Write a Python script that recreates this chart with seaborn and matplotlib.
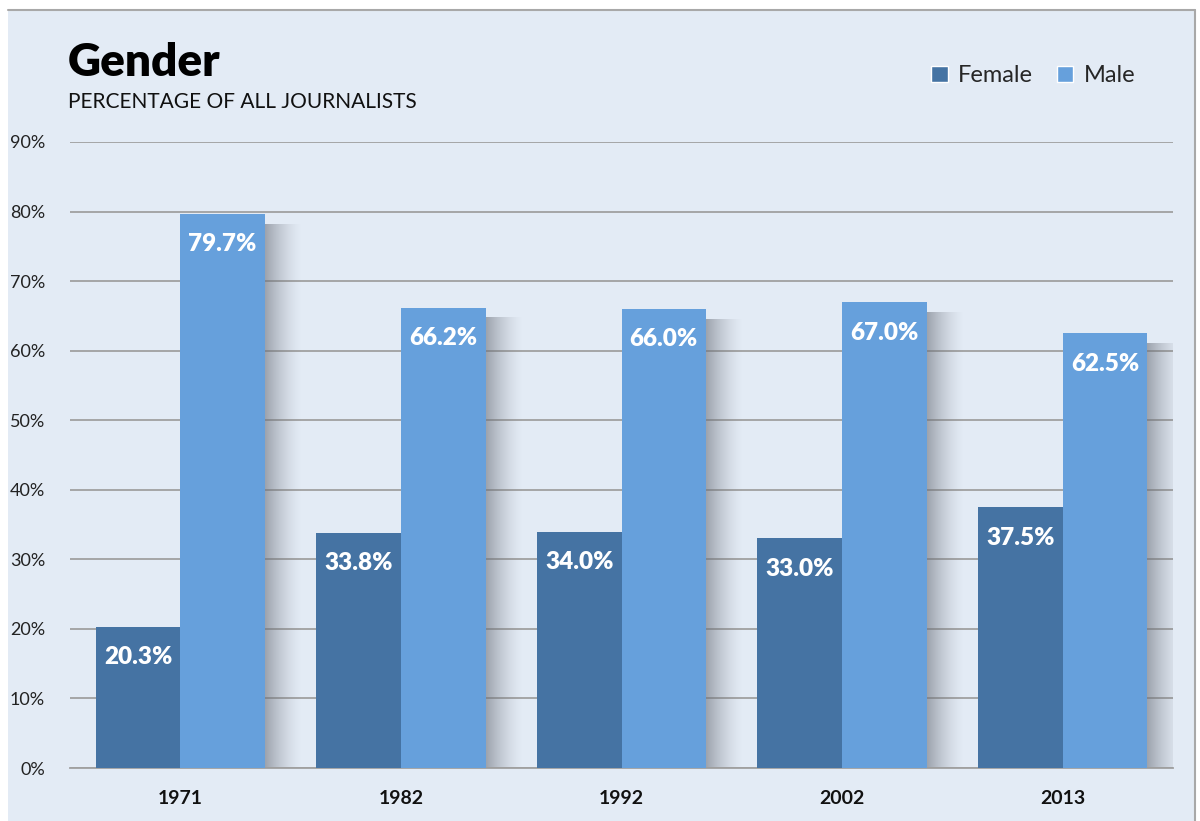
import numpy as np
import pandas as pd
import matplotlib
matplotlib.use("Agg")
import matplotlib.pyplot as plt
import seaborn as sns
from matplotlib.patches import Rectangle

years = ["1971", "1982", "1992", "2002", "2013"]
female = [20.3, 33.8, 34.0, 33.0, 37.5]
male = [79.7, 66.2, 66.0, 67.0, 62.5]
series = ["Female", "Male"]
colors = ["#4573A3", "#66A0DC"]
yticks = [0, 10, 20, 30, 40, 50, 60, 70, 80, 90]

df = pd.DataFrame({
    "year": years * 2,
    "value": female + male,
    "gender": ["Female"] * len(years) + ["Male"] * len(years),
})

sns.set_theme(style="white")
plt.rcParams["font.family"] = ["Lato", "DejaVu Sans"]

BG = "#E3EBF5"
fig = plt.figure(figsize=(12, 8.21), dpi=100)
fig.patch.set_facecolor("white")
fig.patches.append(Rectangle((8 / 1200, 0), (1195 - 8) / 1200, 1 - 10 / 821,
                             transform=fig.transFigure, facecolor=BG,
                             edgecolor="none", zorder=-10))
fig.lines.append(plt.Line2D([8 / 1200, 1195 / 1200], [1 - 10 / 821] * 2,
                            transform=fig.transFigure, color="#A8A8A8", lw=1.5))
fig.lines.append(plt.Line2D([1195 / 1200] * 2, [0, 1 - 10 / 821],
                            transform=fig.transFigure, color="#A8A8A8", lw=1.5))

ax = fig.add_axes([70 / 1200, 1 - 768 / 821, (1173 - 70) / 1200, (768 - 142) / 821])
ax.set_facecolor("none")

sns.barplot(data=df, x="year", y="value", hue="gender", order=years,
            hue_order=series, palette=colors, width=0.767, saturation=1,
            ax=ax, legend=False, zorder=3, linewidth=0, edgecolor="none")

ax.set_xlim(-0.5, len(years) - 0.5)
ax.set_ylim(0, 90)
ax.set_yticks(yticks)
ax.set_yticklabels([f"{v}%" for v in yticks], fontsize=13, color="#222222")
ax.yaxis.grid(True, color="#A0A0A0", linewidth=1.3, zorder=0)
ax.set_axisbelow(True)
ax.tick_params(axis="y", length=0, pad=18)
ax.tick_params(axis="x", which="major", length=0, pad=16)
ax.set_xticks(np.arange(-0.5, len(years)), minor=True)
ax.tick_params(axis="x", which="minor", length=7, color="#A0A0A0", width=1.3)
for lbl in ax.get_xticklabels():
    lbl.set_fontweight("bold")
    lbl.set_fontsize(14)
    lbl.set_color("#111111")
ax.set_xlabel("")
ax.set_ylabel("")
for s in ["top", "right", "left"]:
    ax.spines[s].set_visible(False)
ax.spines["bottom"].set_color("#A0A0A0")
ax.spines["bottom"].set_linewidth(1.3)

# shadows and labels
n = len(years)
bars = list(ax.patches)
grad = np.zeros((1, 64, 4))
grad[..., 0] = 0.42
grad[..., 1] = 0.44
grad[..., 2] = 0.48
grad[0, :, 3] = np.linspace(0.7, 0.0, 64) ** 1.5
for i, p in enumerate(bars):
    x0 = p.get_x()
    w = p.get_width()
    h = p.get_height()
    if i >= n:  # male bars get shadow on the right
        ax.imshow(grad, extent=[x0 + w, x0 + w + 0.17, 0, h - 1.5],
                  aspect="auto", zorder=2, interpolation="bilinear")
    ax.annotate(f"{h:.1f}%", (x0 + w / 2, h), xytext=(0, -22),
                textcoords="offset points", ha="center", va="center",
                color="white", fontsize=17.5, fontweight="heavy", zorder=5)
ax.set_xlim(-0.5, len(years) - 0.5)
ax.set_ylim(0, 90)

fig.text(68 / 1200, 1 - 62 / 821, "Gender", fontsize=33, fontweight="heavy",
         color="black", va="center", ha="left")
fig.text(68 / 1200, 1 - 102 / 821, "PERCENTAGE OF ALL JOURNALISTS", fontsize=15,
         color="#111111", va="center", ha="left")

handles = [Rectangle((0, 0), 1, 1, facecolor=c) for c in colors]
fig.legend(handles, series, loc="center right", bbox_to_anchor=(1145 / 1200, 1 - 76 / 821),
           ncol=2, frameon=False, fontsize=17, handlelength=0.7, handleheight=0.7,
           handletextpad=0.45, columnspacing=1.0, borderaxespad=0)

fig.savefig("out.png", dpi=100, facecolor="white")
